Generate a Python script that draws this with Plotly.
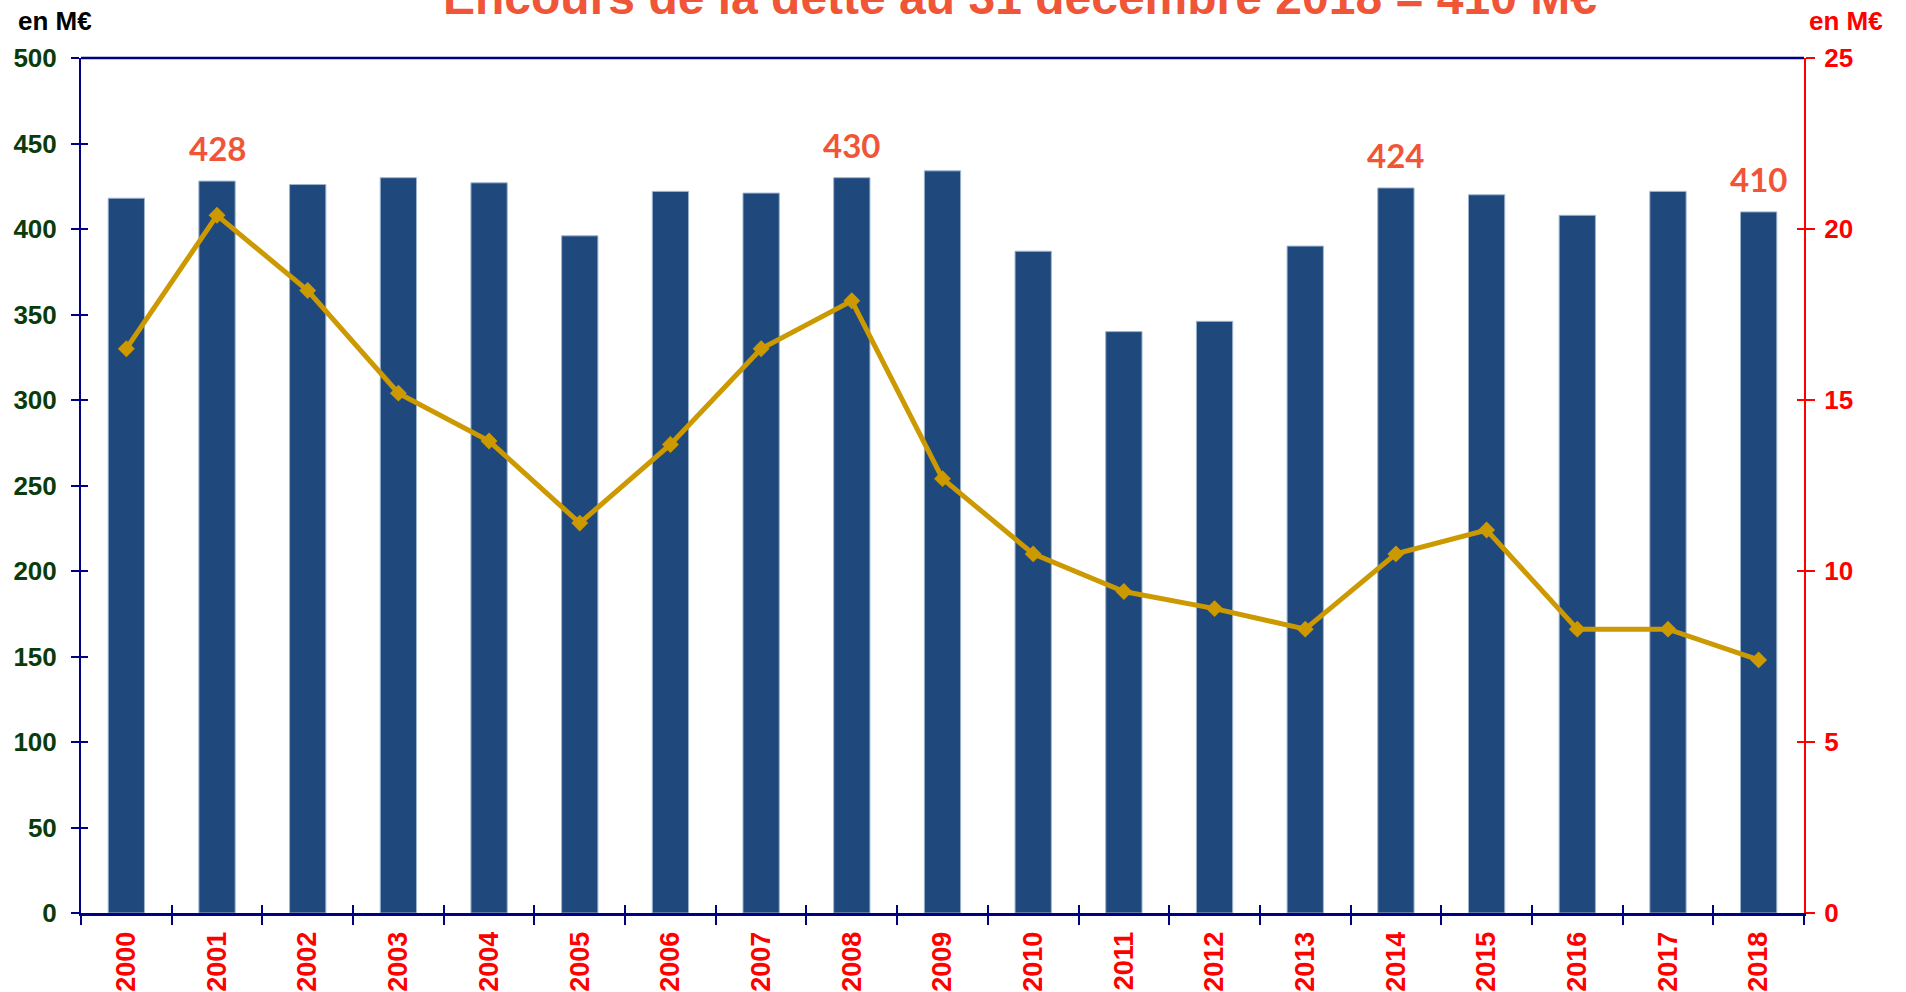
import plotly.graph_objects as go

years = [str(y) for y in range(2000, 2019)]
encours = [418, 428, 426, 430, 427, 396, 422, 421, 430, 434, 387, 340, 346, 390, 424, 420, 408, 422, 410]
annuite = [16.5, 20.4, 18.2, 15.2, 13.8, 11.4, 13.7, 16.5, 17.9, 12.7, 10.5, 9.4, 8.9, 8.3, 10.5, 11.2, 8.3, 8.3, 7.4]
labelled_years = ["2001", "2008", "2014", "2018"]
title_text = "Encours de la dette au 31 décembre 2018 = 410 M€"

NAVY = "#000080"
RED = "#FF0000"
ORANGE = "#F05538"
GREEN = "#0B3B0B"
XR = [-0.5, len(years) - 0.5]

fig = go.Figure()
fig.add_trace(go.Bar(
    x=years, y=encours, width=0.4,
    marker=dict(color="#1F497D", line=dict(color="#9DB3CF", width=1)),
    showlegend=False,
))
fig.add_trace(go.Scatter(
    x=years, y=annuite, yaxis="y2", mode="lines+markers",
    line=dict(color="#CC9900", width=5),
    marker=dict(symbol="diamond", size=13, color="#CC9900"),
    showlegend=False,
))
# invisible helper traces so that the inner half of the crossing ticks is drawn
fig.add_trace(go.Scatter(x=years, y=encours, xaxis="x2", yaxis="y3", mode="markers",
                         marker=dict(opacity=0), hoverinfo="skip", showlegend=False))
fig.add_trace(go.Scatter(x=years, y=annuite, xaxis="x2", yaxis="y4", mode="markers",
                         marker=dict(opacity=0), hoverinfo="skip", showlegend=False))

for yr in labelled_years:
    i = years.index(yr)
    v = encours[i]
    fig.add_annotation(x=i, y=v, xref="x", yref="y", text="<b>%d</b>" % v, showarrow=False,
                       yshift=33, font=dict(family="Lato", size=33, color=ORANGE))

fig.add_annotation(x=0.5447, y=1.0706, xref="paper", yref="paper", text=title_text, showarrow=False,
                   xanchor="center", yanchor="middle",
                   font=dict(family="Liberation Sans, Arial", size=48, color=ORANGE, weight="bold"))
fig.add_annotation(x=-0.0151, y=1.043, xref="paper", yref="paper", text="en M€", showarrow=False,
                   xanchor="center", yanchor="middle",
                   font=dict(family="Liberation Sans, Arial", size=26, color="#000000", weight="bold"))
fig.add_annotation(x=1.0244, y=1.043, xref="paper", yref="paper", text="en M€", showarrow=False,
                   xanchor="center", yanchor="middle",
                   font=dict(family="Liberation Sans, Arial", size=26, color=RED, weight="bold"))

fig.add_shape(type="line", xref="paper", yref="paper", x0=0, x1=1, y0=1, y1=1,
              line=dict(color=NAVY, width=2.5))

fig.update_layout(
    width=1906, height=992,
    margin=dict(l=81, r=102, t=58, b=79, autoexpand=False),
    paper_bgcolor="white", plot_bgcolor="white",
    bargap=0.6,
    xaxis=dict(
        type="category", range=XR, tickson="boundaries", ticks="outside", ticklen=9, tickwidth=2,
        tickcolor=NAVY, showline=True, linecolor=NAVY, linewidth=3, showgrid=False, tickangle=-90,
        tickfont=dict(family="Liberation Sans, Arial", size=27, color=RED, weight="bold"),
        automargin=False, zeroline=False, ticklabelstandoff=5,
    ),
    xaxis2=dict(
        type="category", range=XR, overlaying="x", anchor="y3", tickson="boundaries", ticks="inside",
        ticklen=8, tickwidth=2, tickcolor=NAVY, showline=False, showgrid=False, showticklabels=False,
        zeroline=False,
    ),
    yaxis=dict(
        range=[0, 500], dtick=50, ticks="outside", ticklen=8, tickwidth=2, tickcolor=NAVY,
        showline=True, linecolor=NAVY, linewidth=2, showgrid=False, zeroline=False,
        tickfont=dict(family="Liberation Sans, Arial", size=26, color=GREEN, weight="bold"),
        automargin=False, ticklabelstandoff=9,
    ),
    yaxis2=dict(
        overlaying="y", side="right", range=[0, 25], dtick=5, ticks="outside", ticklen=9, tickwidth=2,
        tickcolor=RED, showline=True, linecolor=RED, linewidth=2, showgrid=False, zeroline=False,
        tickfont=dict(family="Liberation Sans, Arial", size=26, color=RED, weight="bold"),
        automargin=False, ticklabelstandoff=4,
    ),
    yaxis3=dict(
        overlaying="y", anchor="x2", side="left", range=[0, 500], dtick=50, ticks="inside", ticklen=7,
        tickwidth=2, tickcolor=NAVY, showline=False, showgrid=False, zeroline=False, showticklabels=False,
    ),
    yaxis4=dict(
        overlaying="y", anchor="x2", side="right", range=[0, 25], dtick=5, ticks="inside", ticklen=7,
        tickwidth=2, tickcolor=RED, showline=False, showgrid=False, zeroline=False, showticklabels=False,
    ),
)

fig.write_html("out.html", config={"displayModeBar": False},
               post_script="document.body.style.margin='0';document.body.style.overflow='hidden';")
